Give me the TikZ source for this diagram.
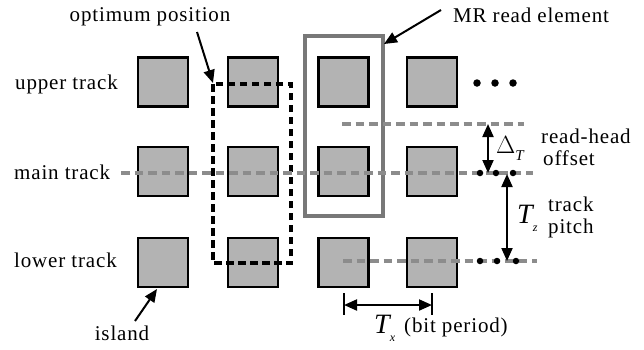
\documentclass[tikz,border=0pt]{standalone}
\usepackage{fontspec}
\setmainfont{Liberation Serif}[LetterSpace=4]
\usetikzlibrary{arrows.meta}
\begin{document}
\begin{tikzpicture}[x=1pt,y=-1pt,
  island/.style={draw=black,line width=2.4pt,fill=islandgray,minimum width=50pt,minimum height=49pt,inner sep=0pt},
  trackline/.style={draw=linegray,line width=3.3pt,dash pattern=on 8.5pt off 5pt},
  optbox/.style={draw=black,line width=3.2pt,dash pattern=on 7.5pt off 4.5pt},
  mrbox/.style={draw=mrgray,line width=3.3pt},
  lbl/.style={font=\fontsize{21}{23}\selectfont,inner sep=0pt},
  ptr/.style={draw=black,line width=2pt,-{Triangle[length=13pt,width=11pt]}},
  dbl/.style={draw=black,line width=2pt,{Triangle[length=13pt,width=11pt]}-{Triangle[length=13pt,width=11pt]}},
  dot/.style={circle,fill=black,inner sep=0pt,minimum size=7.5pt}]
\definecolor{islandgray}{RGB}{179,179,179}
\definecolor{linegray}{RGB}{140,140,140}
\definecolor{mrgray}{RGB}{120,120,120}
\useasboundingbox (0,0) rectangle (644,349);

% islands: three tracks, four bit cells each
\foreach \c/\x in {1/163,2/253,3/343.5,4/432}{
  \foreach \r/\y in {1/82,2/171.5,3/262.5}{
    \node[island] (s\r\c) at (\x,\y) {};
  }
}

% read element window
\draw[mrbox] (305,36) rectangle (383,216);
\coordinate (mrcorner) at (384,44);

% optimum reader position
\draw[optbox] (213,84) rectangle (291,263);
\coordinate (optcorner) at (213,83);

% track centre lines
\coordinate (mainL) at (121,173);  \coordinate (mainR) at (533,173);
\coordinate (upL) at (342,124);    \coordinate (upR) at (524,124);
\coordinate (lowL) at (343,261);   \coordinate (lowR) at (537,261);
\draw[trackline] (mainL) -- (mainR);
\draw[trackline] (upL) -- (upR);
\draw[trackline] (lowL) -- (lowR);

% continuation dots
\foreach \i/\x in {1/477,2/495,3/513}{ \node[dot] (du\i) at (\x,83) {}; }
\foreach \i/\x in {1/480,2/496,3/513}{ \node[dot,minimum size=6.5pt] (dm\i) at (\x,173) {}; }
\foreach \i/\x in {1/480,2/497,3/516}{ \node[dot,minimum size=6.5pt] (dl\i) at (\x,261) {}; }

% track labels
\node[lbl,anchor=west] (upper) at (15,84) {upper track};
\node[lbl,anchor=west] (main) at (14,172) {main track};
\node[lbl,anchor=west] (lower) at (14,260) {lower track};

% pointer labels
\node[lbl] (optlbl) at (150,17) {optimum position};
\coordinate (optfrom) at (197,32);
\draw[ptr] (optfrom) -- (optcorner);

\node[lbl] (mrlbl) at (531,15) {MR read element};
\coordinate (mrfrom) at (441,10);
\draw[ptr] (mrfrom) -- (mrcorner);

\node[lbl] (islbl) at (122,333) {island};
\coordinate (isfrom) at (135,321);
\coordinate (isto) at (157,289);
\draw[ptr] (isfrom) -- (isto);

% read-head offset
\coordinate (offT) at (488,124);
\coordinate (offB) at (488,173);
\draw[dbl] (offT) -- (offB);
\node[inner sep=0pt,anchor=west] (delta) at (496,148)
  {\fontsize{26}{28}\selectfont$\Delta$\raisebox{-7pt}{\fontsize{15}{16}\selectfont\itshape T}};
\node[lbl,anchor=west] (rh1) at (541,136) {read-head};
\node[lbl,anchor=west] (rh2) at (543,158) {offset};

% track pitch
\coordinate (tpT) at (507,174);
\coordinate (tpB) at (507,261);
\draw[dbl] (tpT) -- (tpB);
\node[inner sep=0pt,anchor=west] (tz) at (517,218)
  {\fontsize{28}{29}\selectfont\itshape T\raisebox{-8pt}{\fontsize{12}{13}\selectfont z}};
\node[lbl,anchor=west] (tp1) at (548,204) {track};
\node[lbl,anchor=west] (tp2) at (548,228) {pitch};

% bit period
\coordinate (bpL) at (344,305);
\coordinate (bpR) at (432,305);
\draw[black,line width=2pt] (344,293) -- (344,315) (432,293) -- (432,315);
\draw[dbl] (bpL) -- (bpR);
\node[inner sep=0pt,anchor=west] (tx) at (374,328)
  {\fontsize{28}{29}\selectfont\itshape T\raisebox{-8pt}{\fontsize{12}{13}\selectfont x}};
\node[lbl,anchor=west] (bp) at (404,327) {(bit period)};
\end{tikzpicture}
\end{document}
